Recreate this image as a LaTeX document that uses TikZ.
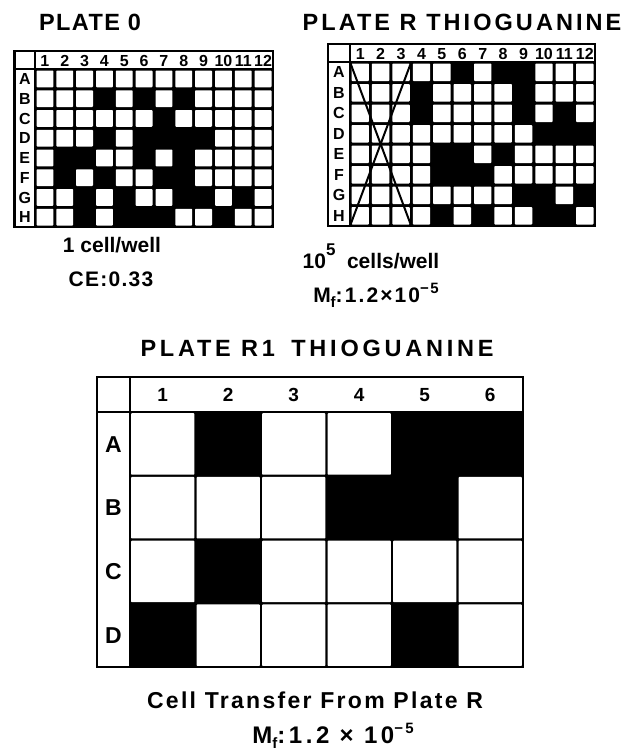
\documentclass[tikz,border=0pt]{standalone}
\usepackage{fontspec}
\setmainfont{Liberation Sans}
\newcommand{\platedraw}[9]{%
  \pgfmathsetmacro{\pcw}{(#5-#3)/#7}%
  \pgfmathsetmacro{\prh}{(#6-#4)/#8}%
  \fill[black] (#3,#4) rectangle (#5,#6);
  \foreach \c in {1,...,#7}{\foreach \r in {1,...,#8}{%
    \fill[white, rounded corners=0.8pt] ({#3+(\c-1)*\pcw+\pgap},{#4+(\r-1)*\prh+\pgap}) rectangle ({#3+\c*\pcw-\pgap},{#4+\r*\prh-\pgap});}}
  \foreach \c/\r in {#9}{\fill[black] ({#3+(\c-1)*\pcw-0.3},{#4+(\r-1)*\prh-0.3}) rectangle ({#3+\c*\pcw+0.3},{#4+\r*\prh+0.3});}
  \draw[frame] (#1,#2) rectangle (#5,#6);
  \draw[frame] (#1,#4) -- (#5,#4);
  \draw[frame] (#3,#2) -- (#3,#6);
}
\newcommand{\subf}{\raisebox{-5pt}{\fontsize{15}{15}\selectfont f}}
\newcommand{\supm}[1]{\raisebox{#1}{\fontsize{15}{15}\selectfont −5}}
\begin{document}
\begin{tikzpicture}[x=1pt,y=-1pt,
  frame/.style={line width=2.4pt, line join=miter},
  ttl/.style={anchor=base, inner sep=0pt, font=\bfseries\fontsize{23.5}{23.5}\selectfont},
  captxt/.style={anchor=base, inner sep=0pt, font=\bfseries\fontsize{21}{21}\selectfont},
  hdrs/.style={anchor=base, inner sep=0pt, font=\bfseries\fontsize{16}{16}\selectfont},
  hdrb/.style={anchor=base, inner sep=0pt, font=\bfseries\fontsize{19}{19}\selectfont},
  lblb/.style={anchor=base, inner sep=0pt, font=\bfseries\fontsize{23}{23}\selectfont},
  cross/.style={line width=2pt}]
\useasboundingbox (0,0) rectangle (631,755);
\fill[white] (0,0) rectangle (631,755);

% ---------- Plate 0 ----------
\def\pgap{1.5}
\platedraw{14.5}{51}{35}{69}{273}{227}{12}{8}{4/2,6/2,8/2,7/3,4/4,6/4,7/4,8/4,9/4,2/5,3/5,6/5,8/5,2/6,4/6,7/6,8/6,3/7,5/7,8/7,9/7,11/7,3/8,5/8,6/8,7/8,10/8}
\foreach \c in {1,...,12} \node[hdrs] (p0c\c) at ({35+(\c-0.5)*19.833},66.2) {\c};
\foreach \l [count=\i] in {A,...,H} \node[hdrs] (p0r\l) at (24.8,{69+(\i-0.5)*19.75+5.7}) {\l};
\node[ttl] (t0) at (90,30) {\addfontfeature{LetterSpace=6}PLATE 0};
\node[captxt] (c0a) at (112,252) {1 cell/well};
\node[captxt] (c0b) at (111,286) {\addfontfeature{LetterSpace=6}CE:0.33};

% ---------- Plate R ----------
\platedraw{328}{44}{350}{62}{595}{226}{12}{8}{6/1,8/1,9/1,4/2,9/2,4/3,9/3,11/3,10/4,11/4,12/4,5/5,6/5,8/5,5/6,6/6,7/6,9/7,10/7,12/7,5/8,7/8,10/8,11/8}
\foreach \c in {1,...,12} \node[hdrs] (prc\c) at ({350+(\c-0.5)*20.417},59.2) {\c};
\foreach \l [count=\i] in {A,...,H} \node[hdrs] (prr\l) at (339,{62+(\i-0.5)*20.5+5.7}) {\l};
\coordinate (xa) at (350,62);
\coordinate (xb) at (411.25,226);
\coordinate (xc) at (411.25,62);
\coordinate (xd) at (350,226);
\draw[cross] (xa) -- (xb);
\draw[cross] (xc) -- (xd);
\node[ttl] (tr) at (462,30) {\addfontfeature{LetterSpace=13}PLATE R THIOGUANINE};
\node[captxt] (cra) at (371,268) {10\raisebox{13pt}{\fontsize{17}{17}\selectfont 5}\hspace{0.55em}cells/well};
\node[captxt] (crb) at (376,302) {\addfontfeature{LetterSpace=10}M\subf:1.2×10\supm{9pt}};

% ---------- Plate R1 ----------
\def\pgap{1.1}
\platedraw{97}{377}{130}{412}{523}{667}{6}{4}{2/1,5/1,6/1,4/2,5/2,2/3,1/4,5/4}
\foreach \c in {1,...,6} \node[hdrb] (p1c\c) at ({130+(\c-0.5)*65.5},401.3) {\c};
\foreach \l [count=\i] in {A,...,D} \node[lblb] (p1r\l) at (113.5,{412+(\i-0.5)*63.75+8.2}) {\l};
\node[ttl] (t1) at (317,356) {\addfontfeature{LetterSpace=16}PLATE R1\hspace{0.7em}THIOGUANINE};
\node[captxt, font=\bfseries\fontsize{23}{23}\selectfont] (c1a) at (315,708) {\addfontfeature{LetterSpace=10}Cell Transfer From Plate R};
\node[captxt, font=\bfseries\fontsize{24}{24}\selectfont] (c1b) at (333,743) {\addfontfeature{LetterSpace=15}M\subf:1.2 × 10\supm{10pt}};
\end{tikzpicture}
\end{document}
